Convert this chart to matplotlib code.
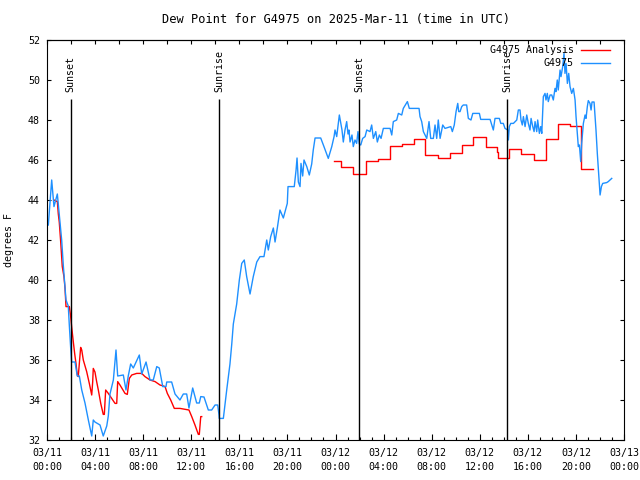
import matplotlib
matplotlib.use("Agg")
import matplotlib.pyplot as plt
from matplotlib.ticker import MultipleLocator

plt.rcParams["font.family"] = ["DejaVu Sans Mono", "DejaVu Sans"]
plt.rcParams["font.size"] = 7.2

# hours since 2025-03-11 00:00 UTC
blue_hours = [
    0.11, 0.39, 0.58, 0.86, 1.08, 1.22, 1.36, 1.58, 1.77, 1.86,
    1.97, 2.05, 2.33, 2.52, 2.69, 2.89, 3.16, 3.44, 3.72, 3.85,
    3.99, 4.41, 4.68, 4.97, 5.10, 5.24, 5.52, 5.74, 5.88, 6.35,
    6.57, 6.76, 6.96, 7.18, 7.68, 7.88, 8.24, 8.57, 8.84, 9.13,
    9.34, 9.63, 9.90, 9.96, 10.37, 10.65, 11.06, 11.34, 11.62, 11.81,
    12.12, 12.45, 12.67, 12.79, 13.06, 13.42, 13.70, 13.98, 14.20, 14.31,
    14.33, 14.67, 14.95, 15.22, 15.37, 15.50, 15.78, 16.00, 16.20, 16.41,
    16.61, 16.89, 17.16, 17.45, 17.72, 18.05, 18.28, 18.41, 18.61, 18.83,
    18.97, 19.16, 19.38, 19.66, 19.99, 20.05, 20.57, 20.72, 20.80, 20.91,
    21.05, 21.13, 21.27, 21.38, 21.61, 21.82, 22.02, 22.15, 22.30, 22.77,
    23.04, 23.40, 23.69, 23.88, 23.96, 24.10, 24.32, 24.44, 24.54, 24.65,
    24.79, 24.93, 25.04, 25.12, 25.21, 25.37, 25.48, 25.62, 25.76, 25.87,
    25.98, 26.10, 26.26, 26.46, 26.60, 26.87, 27.01, 27.15, 27.35, 27.48,
    27.65, 27.79, 27.98, 28.54, 28.68, 28.81, 29.09, 29.23, 29.51, 29.64,
    29.98, 30.14, 30.95, 31.03, 31.17, 31.31, 31.59, 31.78, 31.92, 32.14,
    32.28, 32.42, 32.55, 32.70, 32.92, 33.11, 33.59, 33.72, 33.88, 34.03,
    34.17, 34.25, 34.36, 34.50, 34.63, 34.91, 35.05, 35.27, 35.42, 35.97,
    36.08, 36.86, 37.00, 37.13, 37.27, 37.63, 37.75, 37.96, 38.10, 38.33,
    38.38, 38.46, 38.58, 38.80, 39.08, 39.21, 39.35, 39.43, 39.54, 39.63,
    39.77, 39.91, 40.04, 40.18, 40.27, 40.41, 40.52, 40.60, 40.74, 40.82,
    40.96, 41.07, 41.16, 41.21, 41.29, 41.43, 41.51, 41.62, 41.70, 41.85,
    41.99, 42.12, 42.26, 42.34, 42.45, 42.53, 42.68, 42.76, 42.90, 43.01,
    43.09, 43.18, 43.29, 43.40, 43.51, 43.65, 43.79, 43.93, 44.01, 44.12,
    44.20, 44.29, 44.40, 44.48, 44.62, 44.76, 44.84, 44.95, 45.03, 45.17,
    45.26, 45.34, 45.51, 45.67, 45.78, 45.95, 46.01, 46.12, 46.23, 46.56,
    46.69, 46.98,
]
blue_dewpt = [
    42.75, 45.0, 43.67, 44.3, 42.9, 42.0, 40.7, 39.0, 38.7, 37.7,
    36.6, 35.9, 35.9, 35.2, 35.2, 34.5, 33.85, 33.0, 32.2, 33.0,
    32.9, 32.75, 32.2, 32.7, 33.2, 34.3, 35.0, 36.5, 35.2, 35.25,
    34.5, 35.2, 35.8, 35.6, 36.25, 35.3, 35.9, 35.0, 35.0, 35.67,
    35.6, 34.67, 34.67, 34.9, 34.9, 34.3, 34.0, 34.3, 34.3, 33.6,
    34.6, 33.85, 33.85, 34.17, 34.15, 33.5, 33.5, 33.75, 33.75, 33.25,
    33.08, 33.08, 34.5, 35.8, 36.8, 37.8, 38.8, 40.0, 40.83, 41.0,
    40.17, 39.3, 40.17, 40.9, 41.17, 41.17, 42.0, 41.5, 42.17, 42.6,
    41.9, 42.6, 43.5, 43.1, 43.83, 44.67, 44.67, 45.5, 46.1, 44.9,
    44.67, 45.83, 45.2, 46.0, 45.67, 45.25, 45.8, 46.5, 47.1, 47.1,
    46.67, 46.08, 46.67, 47.17, 47.5, 47.17, 48.25, 47.83, 47.5, 46.9,
    47.5, 47.92, 47.3, 47.5, 46.9, 47.25, 46.67, 47.0, 46.83, 47.42,
    46.8, 46.75, 47.08, 47.17, 47.5, 47.42, 47.75, 47.08, 47.42, 46.9,
    47.25, 47.08, 47.58, 47.58, 47.25, 47.92, 48.0, 48.33, 48.25, 48.58,
    48.92, 48.58, 48.58, 48.17, 47.92, 47.42, 47.08, 47.92, 47.08, 47.08,
    47.75, 47.08, 48.0, 47.08, 47.75, 47.58, 47.67, 47.42, 47.75, 48.42,
    48.83, 48.42, 48.42, 48.67, 48.75, 48.75, 48.08, 48.0, 48.33, 48.33,
    48.03, 48.03, 47.75, 47.5, 48.08, 48.08, 47.83, 47.83, 47.58, 47.5,
    47.0, 47.67, 47.83, 47.83, 48.0, 48.5, 48.5, 48.0, 47.75, 48.17,
    47.67, 48.25, 47.83, 47.5, 48.08, 47.67, 47.42, 47.92, 47.42, 48.0,
    47.33, 47.67, 47.33, 48.08, 49.17, 49.33, 49.0, 49.33, 48.92, 49.25,
    49.25, 49.0, 49.58, 49.42, 50.0, 49.5, 50.5, 50.17, 50.67, 51.33,
    50.33, 50.83, 49.83, 50.33, 49.67, 49.33, 49.58, 49.0, 48.17, 47.33,
    46.67, 46.75, 45.92, 46.83, 47.83, 48.25, 48.08, 48.67, 48.97, 48.83,
    48.5, 48.9, 48.9, 47.5, 46.33, 44.75, 44.25, 44.67, 44.83, 44.87,
    44.92, 45.08,
]

# analysis, first night (line)
anl1_hours = [
    0.58, 0.86, 0.94, 1.02, 1.14, 1.27, 1.41, 1.50, 1.58, 1.86,
    1.97, 2.05, 2.19, 2.30, 2.41, 2.52, 2.60, 2.69, 2.80, 2.89,
    3.02, 3.30, 3.52, 3.72, 3.80, 3.85, 3.99, 4.13, 4.27, 4.47,
    4.68, 4.77, 4.88, 5.10, 5.38, 5.66, 5.80, 5.88, 6.07, 6.49,
    6.68, 6.85, 7.05, 7.46, 7.88, 8.15, 8.57, 8.99, 9.40, 9.68,
    9.82, 10.01, 10.29, 10.59, 11.06, 11.34, 11.81, 12.04, 12.31, 12.59,
    12.67, 12.79, 12.87,
]
anl1_dewpt = [
    44.0, 43.92, 43.3, 42.9, 41.9, 40.67, 40.17, 39.58, 38.67, 38.67,
    38.17, 37.67, 36.9, 36.33, 35.83, 35.25, 35.17, 35.83, 36.63, 36.5,
    36.0, 35.42, 34.83, 34.25, 34.9, 35.58, 35.4, 34.92, 34.5, 33.83,
    33.28, 33.28, 34.5, 34.33, 34.08, 33.83, 33.83, 34.92, 34.75, 34.33,
    34.28, 35.08, 35.25, 35.33, 35.33, 35.17, 35.0, 34.92, 34.75, 34.7,
    34.67, 34.33, 34.0, 33.58, 33.58, 33.55, 33.5, 33.17, 32.75, 32.28,
    32.28, 33.17, 33.17,
]

# analysis, second night (hourly steps)
anl2_hours = [23.88, 24.46, 25.48, 26.50, 27.50, 28.50, 29.50, 30.56,
              31.47, 32.55, 33.50, 34.55, 35.47, 36.52, 37.40, 37.53,
              38.43, 39.43, 40.51, 41.51, 42.53, 43.51, 44.40, 45.40]
anl2_dewpt = [45.95, 45.63, 45.28, 45.95, 46.03, 46.72, 46.80, 47.03,
              46.23, 46.08, 46.33, 46.73, 47.13, 46.67, 46.38, 46.10,
              46.55, 46.28, 46.00, 47.05, 47.78, 47.70, 45.53, 45.53]

sun_hours = [1.97, 14.33, 25.98, 38.30]
sun_labels = ["Sunset", "Sunrise", "Sunset", "Sunrise"]

tick_hours = list(range(0, 49, 4))
tick_labels = ["03/11\n00:00", "03/11\n04:00", "03/11\n08:00", "03/11\n12:00",
               "03/11\n16:00", "03/11\n20:00", "03/12\n00:00", "03/12\n04:00",
               "03/12\n08:00", "03/12\n12:00", "03/12\n16:00", "03/12\n20:00",
               "03/13\n00:00"]

RED = "#ff0000"
BLUE = "#1e90ff"

fig = plt.figure(figsize=(6.4, 4.8), dpi=100)
ax = fig.add_axes([47 / 640, 40 / 480, 577 / 640, 400 / 480])

ax.plot(anl1_hours, anl1_dewpt, color=RED, lw=1.0, label="G4975 Analysis")
ax.plot(anl2_hours, anl2_dewpt, color=RED, lw=1.0, drawstyle="steps-post")
ax.plot(blue_hours, blue_dewpt, color=BLUE, lw=1.0, label="G4975")

ax.vlines(sun_hours, 32, 49.05, color="black", lw=1.0)
for h, lab in zip(sun_hours, sun_labels):
    ax.text(h, 49.4, lab, rotation=90, ha="center", va="bottom")

ax.set_xlim(0, 48)
ax.set_ylim(32, 52)
ax.set_xticks(tick_hours)
ax.set_xticklabels(tick_labels, linespacing=1.6)
ax.xaxis.set_minor_locator(MultipleLocator(1))
ax.set_yticks(range(32, 53, 2))

ax.tick_params(axis="x", which="major", direction="in", length=4.5,
               width=0.8, pad=5.5)
ax.tick_params(axis="x", which="minor", direction="in", length=2.2,
               width=0.8)
ax.tick_params(axis="y", direction="in", length=3, width=0.8, pad=5,
               right=True)
top = ax.secondary_xaxis("top")
top.set_xticks(range(0, 49, 2))
top.tick_params(direction="in", length=3, width=0.8, labeltop=False)
for sp in list(ax.spines.values()) + [top.spines["top"]]:
    sp.set_linewidth(0.8)

ax.set_ylabel("degrees F")
ax.yaxis.set_label_coords(-33 / 577, 0.5)
ax.set_title("Dew Point for G4975 on 2025-Mar-11 (time in UTC)", pad=12)

ax.legend(loc="upper right", bbox_to_anchor=(1 - 7 / 577, 1 + 2 / 400),
          frameon=False, markerfirst=False,
          handlelength=2.9, handletextpad=0.7, labelspacing=0.3,
          borderaxespad=0.4, borderpad=0.3)

fig.savefig("out.png", dpi=100)
